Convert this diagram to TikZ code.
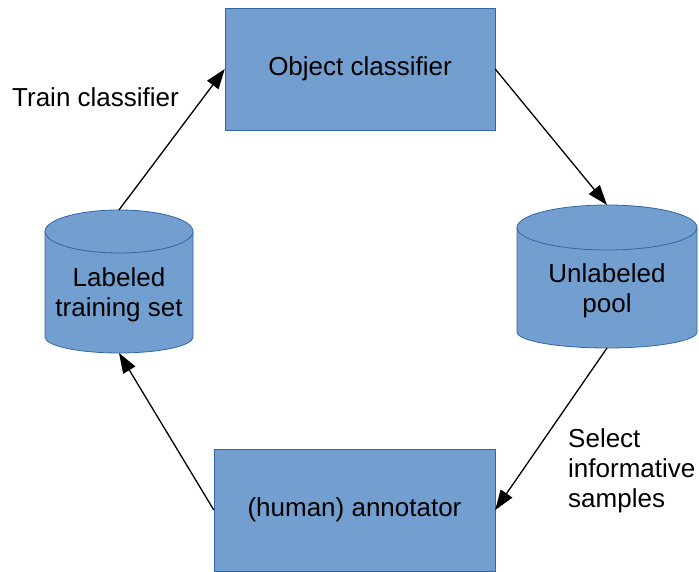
\documentclass[tikz,border=0pt]{standalone}
\usepackage{fontspec}
\setmainfont{Liberation Sans}
\usepackage{xcolor}
\usepackage{tikz}
\usetikzlibrary{arrows.meta,positioning,backgrounds}

\definecolor{boxfill}{HTML}{729FCF}
\definecolor{boxline}{HTML}{3465A4}

% drum outline round a named store node: #1 name, #2 x radius, #3 y radius of the lid
\newcommand{\drum}[3]{%
  \begin{scope}[on background layer]
    \draw[drumbody] ([yshift=#3]#1.north west) -- (#1.south west)
      arc[start angle=180, end angle=360, x radius=#2, y radius=16pt]
      -- ([yshift=#3]#1.north east)
      arc[start angle=0, end angle=180, x radius=#2, y radius=#3] -- cycle;
    \draw[drumbody, fill=none] ([yshift=#3]#1.north west)
      arc[start angle=180, end angle=360, x radius=#2, y radius=#3];
  \end{scope}
  \coordinate (#1-top) at ([yshift=2*#3]#1.north);
  \coordinate (#1-bottom) at ([yshift=-16pt]#1.south);
}

\begin{document}
\begin{tikzpicture}[
    x=1pt, y=1pt,
    every node/.style={font=\fontsize{26}{30}\selectfont},
    box/.style={rectangle, draw=boxline, fill=boxfill, minimum height=122pt, align=center},
    store/.style={rectangle, inner sep=0pt, outer sep=0pt, align=center},
    drumbody/.style={draw=boxline, fill=boxfill, line width=0.8pt},
    arrow/.style={-{Triangle[length=20pt,width=14pt]}, line width=1.3pt}
]
    \useasboundingbox (0,0) rectangle (699,572);

    % Boxes
    \node[box, minimum width=270pt] (cls) at (360,503) {Object classifier};
    \node[box, minimum width=281pt] (ann) at (354.5,62) {(human) annotator};

    % Stores
    \node[store, minimum width=148pt, minimum height=84pt] (labeled) at (119,277) {Labeled\\training set};
    \node[store, minimum width=180pt, minimum height=82pt] (pool) at (607,281) {Unlabeled\\pool};
    \drum{labeled}{74pt}{21.5pt}
    \drum{pool}{90pt}{22.5pt}

    % Arrows
    \draw[arrow] (labeled-top) -- (cls.west);
    \draw[arrow] (cls.east) -- (pool-top);
    \draw[arrow] (pool-bottom) -- (ann.east);
    \draw[arrow] (ann.west) -- (labeled-bottom);

    % Labels
    \node[anchor=west, inner sep=0pt] (train) at (12,475) {Train classifier};
    \node[anchor=west, inner sep=0pt, align=left] (select) at (568,101) {Select\\informative\\samples};
\end{tikzpicture}
\end{document}
